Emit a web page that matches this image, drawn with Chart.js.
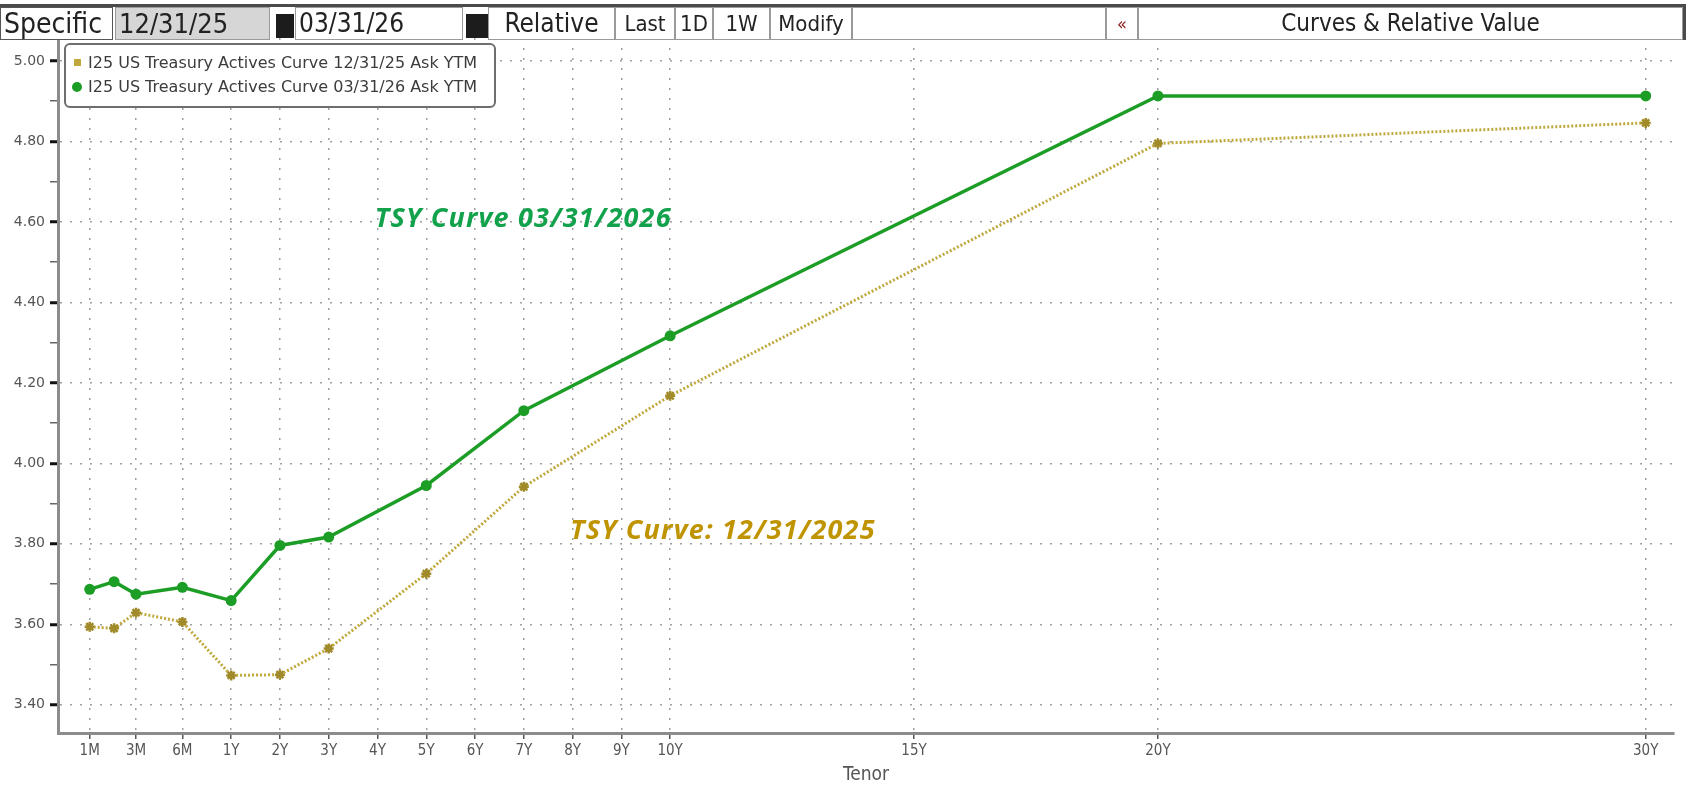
<!DOCTYPE html>
<html>
<head>
<meta charset="utf-8">
<script src="https://cdn.jsdelivr.net/npm/chart.js@4.4.1/dist/chart.umd.min.js"></script>
<style>
  html, body { margin: 0; padding: 0; background: #fff; }
  body { width: 1689px; height: 786px; position: relative; overflow: hidden; }
  #c { position: absolute; left: 0; top: 0; }
  #tb { position: absolute; left: 0; top: 4px; width: 1686px; height: 36px; border-top: 3px solid #4a4a4a; border-right: 3px solid #4a4a4a; box-sizing: border-box; }
  .bx { position: absolute; top: 0; height: 33px; box-sizing: border-box; border: 1px solid #9a9a9a; background: #fff;
        font-family: "DejaVu Sans Condensed", "DejaVu Sans", sans-serif; font-size: 26px; color: #222; line-height: 31px; white-space: nowrap; overflow: hidden; }
  .ctr { text-align: center; }
  #legend { position: absolute; left: 64px; top: 43px; width: 432px; height: 65px; box-sizing: border-box; border: 2px solid #6e6e6e; border-radius: 6px; background: #fff;
        font-family: "DejaVu Sans", sans-serif; font-size: 16px; color: #3c3c3c; padding-top: 6px; }
  .lr { height: 24px; line-height: 24px; position: relative; padding-left: 22px; white-space: nowrap; }
  .mk { position: absolute; }
</style>
</head>
<body>
<canvas id="c" width="1689" height="786"></canvas>
<div id="tb"></div>
<div id="legend"></div>
<script>
// ---------------- data ----------------
const tenors      = ['1M','2M','3M','6M','1Y','2Y','3Y','5Y','7Y','10Y','20Y','30Y'];
const tenorPos    = [-1.9, -1.4, -0.95, 0, 1, 2, 3, 5, 7, 10, 20, 30];
const ytm_123125  = [3.594, 3.590, 3.629, 3.606, 3.473, 3.475, 3.540, 3.726, 3.942, 4.168, 4.795, 4.846];
const ytm_033126  = [3.687, 3.706, 3.675, 3.692, 3.659, 3.796, 3.817, 3.945, 4.131, 4.317, 4.913, 4.913];
const seriesNames = ['I25 US Treasury Actives Curve 12/31/25 Ask YTM', 'I25 US Treasury Actives Curve 03/31/26 Ask YTM'];
const xTickLabels = ['1M','3M','6M','1Y','2Y','3Y','4Y','5Y','6Y','7Y','8Y','9Y','10Y','15Y','20Y','30Y'];
const xTickPos    = [-1.9, -0.95, 0, 1, 2, 3, 4, 5, 6, 7, 8, 9, 10, 15, 20, 30];
const yTickVals   = [3.4, 3.5, 3.6, 3.7, 3.8, 3.9, 4.0, 4.1, 4.2, 4.3, 4.4, 4.5, 4.6, 4.7, 4.8, 4.9, 5.0];
const annTexts    = ['TSY Curve 03/31/2026', 'TSY Curve: 12/31/2025'];
const annX        = [3.95, 7.95];
const annY        = [4.587, 3.813];
const toolbarItems = ['Specific', '12/31/25', '', '03/31/26', '', 'Relative', 'Last', '1D', '1W', 'Modify', '', '\u00ab', 'Curves & Relative Value'];

// ---------------- colours ----------------
const GREEN = '#1c9d25';
const GOLD  = '#c0a83c';
const GOLD_PT = '#a08a2a';
const ANN_COLORS = ['#13a24c', '#c09400'];

// ---------------- toolbar ----------------
(function(){
  const tb = document.getElementById('tb');
  const geo = [ [0,113,'#fff','l'], [115,155,'#d6d6d6','l'], [276,18,'#1c1c1c','b'], [295,168,'#fff','l'], [466,22,'#1c1c1c','b'],
                [488,127,'#fff','c'], [615,60,'#fff','c'], [675,38,'#fff','c'], [713,57,'#fff','c'], [770,82,'#fff','c'],
                [852,254,'#fff','c'], [1106,32,'#fff','c'], [1138,545,'#fff','c'] ];
  toolbarItems.forEach((t,i)=>{
    const g = geo[i];
    const d = document.createElement('div');
    d.className = 'bx' + (g[3]==='c' ? ' ctr' : '');
    d.style.left = g[0] + 'px'; d.style.width = g[1] + 'px'; d.style.background = g[2];
    if (g[3]==='l') d.style.paddingLeft = '3px';
    if (g[3]==='b') { d.style.top = '7px'; d.style.height = '24px'; d.style.border = 'none'; }
    if (i===0) { d.style.fontSize = '28px'; d.style.border = '1px solid #555'; }
    if (i===1) { d.style.fontSize = '27px'; }
    if (i>=6 && i<=9) { d.style.fontSize = '22px'; }
    if (i===11) { d.style.color = '#8a2020'; d.style.fontSize = '18px'; }
    if (i===12) { d.style.fontSize = '24px'; }
    d.textContent = t;
    tb.appendChild(d);
  });
})();

// ---------------- legend ----------------
(function(){
  const lg = document.getElementById('legend');
  seriesNames.forEach((n,i)=>{
    const r = document.createElement('div'); r.className = 'lr';
    const m = document.createElement('span'); m.className = 'mk';
    if (i===0) { m.style.cssText = 'left:8px;top:8px;width:7px;height:7px;background:' + GOLD + ';'; }
    else { m.style.cssText = 'left:6px;top:7px;width:10px;height:10px;border-radius:50%;background:' + GREEN + ';'; }
    r.appendChild(m);
    r.appendChild(document.createTextNode(n));
    lg.appendChild(r);
  });
})();

// ---------------- chart ----------------
const annotPlugin = {
  id: 'annot',
  afterDatasetsDraw(chart) {
    const {ctx, scales:{x, y}} = chart;
    ctx.save();
    ctx.font = 'italic bold 27px "Open Sans", Lato, sans-serif';
    try { ctx.letterSpacing = '1.2px'; } catch(e) {}
    ctx.textBaseline = 'alphabetic';
    ctx.textAlign = 'left';
    annTexts.forEach((t,i)=>{
      ctx.fillStyle = ANN_COLORS[i];
      ctx.fillText(t, x.getPixelForValue(annX[i]), y.getPixelForValue(annY[i]));
    });
    ctx.restore();
  }
};

const isMinor = v => Math.round(v*10) % 2 !== 0;

new Chart(document.getElementById('c'), {
  type: 'line',
  data: {
    datasets: [
      {
        label: seriesNames[0],
        data: tenorPos.map((p,i)=>({x:p, y:ytm_123125[i]})),
        borderColor: GOLD, borderWidth: 3, borderDash: [2,2],
        pointStyle: 'star', pointRadius: 5, pointBorderWidth: 2.5,
        pointBorderColor: GOLD_PT, pointBackgroundColor: GOLD_PT, tension: 0
      },
      {
        label: seriesNames[1],
        data: tenorPos.map((p,i)=>({x:p, y:ytm_033126[i]})),
        borderColor: GREEN, borderWidth: 3.5,
        pointStyle: 'circle', pointRadius: 5.5, pointBorderWidth: 0,
        pointBackgroundColor: GREEN, tension: 0
      }
    ]
  },
  options: {
    responsive: false, animation: false, devicePixelRatio: 1,
    layout: { padding: { top: 38, right: 15, left: 0, bottom: 0 } },
    plugins: { legend: { display: false }, tooltip: { enabled: false } },
    scales: {
      x: {
        type: 'linear', min: -2.55, max: 30.58,
        afterBuildTicks: s => { s.ticks = xTickPos.map(v=>({value:v})); },
        afterFit: s => { s.height = 53; },
        ticks: {
          autoSkip: false, maxRotation: 0, padding: 3, color: '#555',
          font: { family: '"DejaVu Sans Condensed", "DejaVu Sans", sans-serif', size: 15 },
          callback: (v) => { const k = xTickPos.indexOf(v); return k >= 0 ? xTickLabels[k] : ''; }
        },
        grid: { color: '#a0a0a0', lineWidth: 1.5, tickLength: 6, tickColor: '#555', tickWidth: 1.5, tickBorderDash: [] },
        border: { display: true, color: '#8c8c8c', width: 3, dash: [2,8] },
        title: { display: true, text: 'Tenor', color: '#555', padding: 0,
                 font: { family: '"DejaVu Sans Condensed", "DejaVu Sans", sans-serif', size: 19 } }
      },
      y: {
        type: 'linear', min: 3.33, max: 5.057,
        afterBuildTicks: s => { s.ticks = yTickVals.map(v=>({value:v})); },
        afterFit: s => { s.width = 58; },
        ticks: {
          autoSkip: false, padding: 5, color: '#555',
          font: { family: '"DejaVu Sans", sans-serif', size: 14 },
          callback: (v) => isMinor(v) ? '' : v.toFixed(2)
        },
        grid: {
          color: c => (c.tick && isMinor(c.tick.value)) ? 'rgba(0,0,0,0)' : '#a0a0a0',
          lineWidth: 1.5, tickLength: 8, tickBorderDash: [],
          tickColor: c => (c.tick && isMinor(c.tick.value)) ? '#666' : '#111',
          tickWidth: c => (c.tick && isMinor(c.tick.value)) ? 1.5 : 3
        },
        border: { display: true, color: '#8c8c8c', width: 3, dash: [2,8] }
      }
    }
  },
  plugins: [annotPlugin]
});
</script>
</body>
</html>
